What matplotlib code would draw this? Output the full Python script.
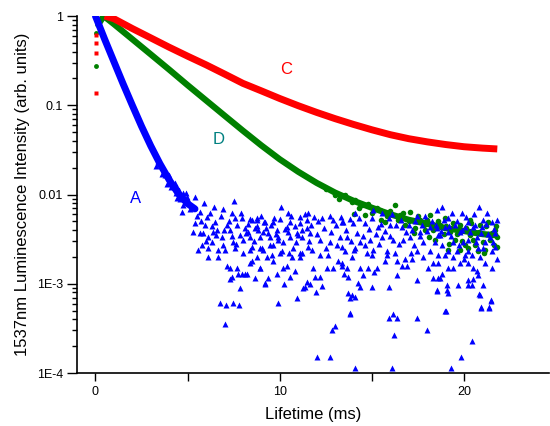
import matplotlib.pyplot as plt

plt.rcParams['font.family'] = ['Liberation Sans', 'DejaVu Sans']

# Curve C (red) - read along the centre of the band
c_t = [0.5, 1.0, 2.0, 3.0, 4.0, 5.0, 6.0, 7.0, 8.0, 9.0, 10.0, 11.0, 12.0, 13.0, 14.0, 15.0, 16.0, 17.0, 18.0,
       19.0, 20.0, 21.0, 21.8]
c_y = [1.0, 0.933, 0.724, 0.569, 0.447, 0.355, 0.284, 0.224, 0.176, 0.145, 0.119, 0.0989, 0.0832, 0.0708,
       0.0610, 0.0531, 0.0468, 0.0422, 0.0389, 0.0363, 0.0343, 0.0331, 0.0324]
# stray red points at t = 0
c0_t = [0.05, 0.05, 0.05, 0.05]
c0_y = [0.61, 0.50, 0.385, 0.137]

# Curve D (green)
d_t = [0.15, 0.45, 1.0, 2.0, 3.0, 4.0, 5.0, 6.0, 7.0, 8.0, 9.0, 10.0, 11.0, 12.0, 13.0, 14.0, 15.0, 16.0, 17.0,
       18.0, 19.0, 20.0, 21.0, 21.7]
d_y = [0.80, 1.0, 0.813, 0.550, 0.372, 0.251, 0.168, 0.1135, 0.0767, 0.0519, 0.0355, 0.0248, 0.0180, 0.0135,
       0.0105, 0.0085, 0.0071, 0.0060, 0.0052, 0.0047, 0.0042, 0.0039, 0.0036, 0.0035]
d0_t = [0.04, 0.04]
d0_y = [0.645, 0.275]
# noisy green tail
dn_t = [13.55, 14.09, 14.47, 15.45, 16.26, 16.53, 17.07, 17.62, 18.16, 18.70, 18.97, 19.51, 19.78, 20.33, 20.60,
        20.87, 21.14, 21.41, 21.68, 21.79, 14.63, 15.72, 16.80, 17.89, 19.24, 20.05, 18.43, 17.34, 20.76, 19.78,
        21.30, 19.13, 20.33,
        12.5, 13.0, 13.2, 13.9, 14.3, 14.8, 15.0, 15.3, 15.8, 16.0, 16.4, 16.7, 17.0, 17.5, 17.8, 18.0, 18.3,
        18.6, 18.9, 19.0, 19.4, 19.6, 19.9, 20.1, 20.4, 20.5, 20.8, 21.0, 21.2, 21.5, 21.6, 21.75, 21.8, 19.2,
        20.2, 17.3, 15.5, 14.0, 21.1, 18.1]
dn_y = [0.0099, 0.0087, 0.0076, 0.0067, 0.0076, 0.0059, 0.0064, 0.0052, 0.0059, 0.0046, 0.0055, 0.0031, 0.0046,
        0.0035, 0.0027, 0.0046, 0.0024, 0.0031, 0.0040, 0.0026, 0.0059, 0.0049, 0.0046, 0.0040, 0.0038, 0.0027,
        0.0031, 0.0042, 0.0023, 0.0024, 0.0049, 0.0024, 0.0052,
        0.0115, 0.0098, 0.0088, 0.0083, 0.0070, 0.0078, 0.0062, 0.0071, 0.0058, 0.0066, 0.0052, 0.0062, 0.0050,
        0.0058, 0.0045, 0.0052, 0.0040, 0.0050, 0.0036, 0.0044, 0.0048, 0.0036, 0.0030, 0.0042, 0.0048, 0.0031,
        0.0038, 0.0029, 0.0044, 0.0037, 0.0027, 0.0044, 0.0033, 0.0028, 0.0025, 0.0037, 0.0052, 0.0061, 0.0022,
        0.0033]

# Curve A (blue) - fast decay part
a_t = [0.0, 0.5, 1.0, 1.5, 2.0, 2.5, 3.0, 3.5, 4.0, 4.5, 5.0, 5.4]
a_y = [1.0, 0.55, 0.309, 0.174, 0.100, 0.0582, 0.0351, 0.0221, 0.0146, 0.0102, 0.0079, 0.0069]

# Curve A - ragged points around the end of the decay
ar_t = [3.3, 3.4, 3.6, 3.8, 3.9, 4.0, 4.1, 4.3, 4.35, 4.55, 4.6, 4.9, 5.1]
ar_y = [0.021, 0.0235, 0.017, 0.0165, 0.013, 0.0165, 0.012, 0.0135, 0.0105, 0.0112, 0.0088, 0.0105, 0.0082]

# Curve A - noise floor, read point by point
an_t = [4.44, 4.77, 4.44, 4.99, 5.42, 4.77, 5.26, 4.72, 5.69, 6.07, 5.91, 6.45, 6.94, 7.43, 7.97, 8.51, 8.78,
        9.16, 9.65, 10.57, 11.11, 11.49, 5.42, 5.96, 6.50, 7.15, 7.59, 8.13, 8.67, 9.11, 9.86, 10.41, 10.95,
        11.49, 5.31, 5.85, 6.40, 6.88, 7.32, 7.86, 8.40, 8.94, 9.49, 9.92, 10.57, 11.22, 6.61, 6.12, 6.34, 7.48,
        8.02, 8.51, 8.94, 9.65, 10.73, 11.11, 11.54, 6.94, 9.32, 9.65, 8.78, 7.59, 8.02,
        7.53, 5.58, 6.12, 6.67, 7.05, 6.12, 6.67, 7.15, 7.32, 7.43, 7.32, 7.70, 7.75, 8.13, 7.86, 6.78, 7.10,
        7.48, 7.80, 7.05, 5.69, 5.80, 10.08, 9.92, 10.95, 8.40, 8.67, 9.21, 9.38, 10.03, 10.41, 10.84, 11.49,
        11.38, 8.94, 8.24, 7.97,
        9.21, 9.86, 10.24, 10.57, 11.27, 11.65, 11.92, 12.20, 12.30, 11.98, 13.01, 12.85, 12.03, 12.74, 12.57,
        12.90, 13.39, 10.19, 13.82,
        8.40, 8.78, 9.21, 9.70, 10.46, 11.11, 11.54, 11.87, 12.30, 12.90, 13.39, 8.29, 8.83, 9.38, 9.92, 10.46,
        11.00, 11.65, 12.20, 12.74, 13.28, 8.40, 9.05, 9.59, 10.14, 10.68, 11.22, 11.76, 12.63, 13.17, 8.51,
        8.94, 11.11, 11.82,
        14.09, 15.07, 15.56, 16.10, 17.45, 17.89, 18.54, 13.44, 13.98, 14.63, 15.34, 15.99, 16.64, 17.18, 17.62,
        18.16, 18.59, 13.66, 14.36, 14.91, 15.56, 16.15, 16.69, 17.07, 17.78, 13.39, 14.09, 14.74, 15.07, 15.83,
        16.26, 17.45, 18.16, 13.55, 13.93, 15.01, 15.72, 16.37, 16.80, 17.78, 18.32, 13.39, 13.66, 14.36, 14.80,
        15.28, 13.50, 13.71, 14.53, 15.12, 16.37, 16.64, 16.91, 17.18, 17.45, 18.05, 18.32, 18.59, 14.25, 14.36,
        15.01, 15.93, 18.54, 13.71, 13.93, 14.09, 13.82, 13.82, 15.93, 16.15, 16.37, 17.45, 17.99, 16.21, 14.09,
        16.10,
        19.02, 19.30, 19.84, 20.43, 20.81, 20.87, 21.36, 21.46, 20.92,
        18.81, 19.35, 19.89, 21.25, 20.54, 19.13, 20.22, 21.03, 21.52, 18.54, 18.97, 19.51, 20.05, 20.49, 20.98,
        21.68, 18.70, 19.13, 19.78, 20.22, 20.70, 21.41, 19.40, 19.95, 21.14, 21.57, 18.81, 19.13, 19.62, 20.22,
        20.76, 21.52, 18.97, 19.40, 20.05, 20.43, 20.87, 21.79, 18.59, 19.13, 19.40, 19.78, 20.22, 20.49, 21.14,
        21.52, 18.81, 20.70, 20.76, 18.70, 20.22, 20.49, 19.08, 19.67, 20.22, 20.43, 21.03, 18.54, 19.08, 19.13,
        20.81, 21.46, 20.92, 21.36, 18.97,
        5.0, 5.15, 5.5, 5.75, 6.2, 6.3, 6.55, 6.8, 7.0, 7.25, 7.4, 7.7, 7.9, 8.15, 8.3, 8.6, 8.75, 9.0, 9.25,
        9.45, 9.55, 9.8, 10.0, 10.2, 10.3, 10.6, 10.8, 10.9, 11.2, 11.35, 11.6, 11.7, 12.0, 12.1, 12.4, 12.5,
        12.7, 12.8, 13.05, 13.1, 13.3, 13.6, 13.8, 13.85, 14.2, 14.3, 14.5, 14.6, 14.85, 15.0, 15.2, 15.4, 15.5,
        15.7, 15.9, 16.0, 16.3, 16.45, 16.6, 16.85, 17.0, 17.3, 17.35, 17.6, 17.7, 18.0, 18.25, 18.4, 18.45,
        18.75, 18.9, 19.2, 19.3, 19.6, 19.7, 19.9, 20.1, 20.3, 20.6, 20.65, 20.9, 21.0, 21.2, 21.3, 21.6, 21.7,
        21.8, 6.0, 7.6, 9.1, 10.5, 12.2, 14.0, 15.8, 17.1, 18.6, 20.0]
an_y = [0.0121, 0.0104, 0.0091, 0.0094, 0.0094, 0.0076, 0.0072, 0.0064, 0.0064, 0.0056, 0.0080, 0.0072, 0.0069,
        0.0062, 0.0055, 0.0052, 0.0055, 0.0049, 0.0049, 0.0049, 0.0048, 0.0052, 0.0048, 0.0046, 0.0049, 0.0046,
        0.0055, 0.0042, 0.0042, 0.0038, 0.0040, 0.0043, 0.0037, 0.0042, 0.0038, 0.0037, 0.0038, 0.0033, 0.0040,
        0.0035, 0.0033, 0.0033, 0.0033, 0.0031, 0.0033, 0.0033, 0.0040, 0.0033, 0.0029, 0.0029, 0.0031, 0.0026,
        0.0025, 0.0027, 0.0025, 0.0022, 0.0026, 0.0027, 0.0020, 0.0018, 0.0020, 0.0025, 0.0022,
        0.0085, 0.0024, 0.0025, 0.0024, 0.0024, 0.0020, 0.0020, 0.0016, 0.0015, 0.0012, 0.00113, 0.0015, 0.0013,
        0.0013, 0.00090, 0.00061, 0.00058, 0.00061, 0.00058, 0.00035, 0.0037, 0.0027, 0.0072, 0.00061, 0.00069,
        0.0017, 0.00116, 0.00102, 0.00116, 0.0022, 0.0016, 0.0014, 0.00105, 0.00092, 0.0015, 0.0013, 0.0013,
        0.00099, 0.0013, 0.00099, 0.0012, 0.00090, 0.00099, 0.0012, 0.0012, 0.00094, 0.00081, 0.00034, 0.00030,
        0.00015, 0.00015, 0.0015, 0.0015, 0.0017, 0.0015, 0.00047,
        0.0053, 0.0052, 0.0049, 0.0055, 0.0062, 0.0056, 0.0062, 0.0056, 0.0055, 0.0052, 0.0049, 0.0038, 0.0040,
        0.0037, 0.0033, 0.0038, 0.0035, 0.0037, 0.0031, 0.0029, 0.0033, 0.0024, 0.0025, 0.0021, 0.0023, 0.0020,
        0.0022, 0.0024, 0.0021, 0.0018, 0.0018, 0.0015, 0.0020, 0.0015,
        0.0062, 0.0067, 0.0062, 0.0060, 0.0057, 0.0057, 0.0067, 0.0049, 0.0048, 0.0048, 0.0043, 0.0046, 0.0043,
        0.0040, 0.0038, 0.0043, 0.0035, 0.0033, 0.0029, 0.0031, 0.0033, 0.0031, 0.0031, 0.0033, 0.0029, 0.0026,
        0.0025, 0.0022, 0.0024, 0.0023, 0.0022, 0.0023, 0.0023, 0.0023, 0.0020, 0.0021, 0.0018, 0.0018, 0.0019,
        0.0020, 0.0017, 0.0016, 0.0015, 0.0015, 0.0015, 0.0015, 0.0013, 0.0012, 0.00125, 0.00135, 0.00125,
        0.0016, 0.0016, 0.0019, 0.0011, 0.0015, 0.00116, 0.00116, 0.00102, 0.00092, 0.00092, 0.00092, 0.00083,
        0.00079, 0.00075, 0.00071, 0.00069, 0.00046, 0.00041, 0.00046, 0.00041, 0.00041, 0.00030, 0.00027,
        0.000114, 0.000114,
        0.00050, 0.000114, 0.00015, 0.00023, 0.0072, 0.00075, 0.00054, 0.00064, 0.00054,
        0.0072, 0.0062, 0.0062, 0.0062, 0.0060, 0.0055, 0.0049, 0.0052, 0.0049, 0.0042, 0.0043, 0.0046, 0.0043,
        0.0043, 0.0043, 0.0037, 0.0035, 0.0038, 0.0038, 0.0031, 0.0033, 0.0033, 0.0029, 0.0029, 0.0029, 0.0029,
        0.0027, 0.0023, 0.0023, 0.0023, 0.0025, 0.0023, 0.0021, 0.0020, 0.0021, 0.0021, 0.0020, 0.0019, 0.0017,
        0.0015, 0.0015, 0.0017, 0.0017, 0.0015, 0.0017, 0.0015, 0.0013, 0.0014, 0.00125, 0.00116, 0.0011,
        0.00113, 0.00097, 0.00097, 0.00097, 0.00097, 0.00097, 0.00085, 0.00085, 0.00079, 0.00077, 0.00066,
        0.00055, 0.00055, 0.00050,
        0.0085, 0.0068, 0.0058, 0.0050, 0.0062, 0.0044, 0.0035, 0.0058, 0.0040, 0.0051, 0.0034, 0.0045, 0.0062,
        0.0037, 0.0047, 0.0030, 0.0044, 0.0058, 0.0042, 0.0027, 0.0046, 0.0036, 0.0053, 0.0029, 0.0041, 0.0058,
        0.0044, 0.0029, 0.0040, 0.0061, 0.0030, 0.0045, 0.0036, 0.0050, 0.0042, 0.0025, 0.0058, 0.0038, 0.0045,
        0.0027, 0.0056, 0.0040, 0.0053, 0.0030, 0.0037, 0.0055, 0.0034, 0.0027, 0.0041, 0.0055, 0.0036, 0.0028,
        0.0047, 0.0039, 0.0054, 0.0034, 0.0045, 0.0028, 0.0052, 0.0038, 0.0046, 0.0027, 0.0050, 0.0034, 0.0046,
        0.0039, 0.0050, 0.0029, 0.0045, 0.0039, 0.0052, 0.0044, 0.0034, 0.0051, 0.0027, 0.0040, 0.0056, 0.0038,
        0.0046, 0.0029, 0.0037, 0.0025, 0.0047, 0.0036, 0.0041, 0.0026, 0.0052, 0.0030, 0.0028, 0.0024, 0.0022,
        0.0021, 0.0024, 0.0021, 0.0022, 0.0021, 0.0019]

y_ticks = [1, 0.1, 0.01, 1e-3, 1e-4]
y_tick_labels = ['1', '0.1', '0.01', '1E-3', '1E-4']
x_ticks = [0, 5, 10, 15, 20]
x_tick_labels = ['0', '', '10', '', '20']

fig = plt.figure(figsize=(5.5, 4.26), dpi=100)
ax = fig.add_axes([0.14, 0.1244, 0.858, 0.838])

# D underneath, then C, then A on top
ax.plot(d_t, d_y, color='green', lw=4.5, solid_capstyle='round', solid_joinstyle='round')
ax.plot(dn_t, dn_y, ls='none', marker='o', ms=4, color='green', mec='none')
ax.plot(d0_t, d0_y, ls='none', marker='o', ms=3.5, color='green', mec='none')

ax.plot(c_t, c_y, color='red', lw=5, solid_capstyle='butt', solid_joinstyle='round')
ax.plot(c0_t, c0_y, ls='none', marker='s', ms=3, color='red', mec='none')

ax.plot(a_t, a_y, color='blue', lw=5, solid_capstyle='round', solid_joinstyle='round')
ax.plot(ar_t, ar_y, ls='none', marker='^', ms=4.5, color='blue', mec='none')
ax.plot(an_t, an_y, ls='none', marker='^', ms=4.5, color='blue', mec='none')

ax.set_yscale('log')
ax.set_ylim(1e-4, 1)
ax.set_xlim(-1.0, 24.6)

ax.set_yticks(y_ticks)
ax.set_yticklabels(y_tick_labels)
ax.set_xticks(x_ticks)
ax.set_xticklabels(x_tick_labels)

ax.tick_params(axis='y', which='major', direction='out', length=7, width=1, labelsize=9, pad=3)
ax.tick_params(axis='y', which='minor', direction='out', length=3.6, width=1)
ax.tick_params(axis='x', which='major', direction='out', length=5.5, width=1, labelsize=9, pad=4)

ax.spines['top'].set_visible(False)
ax.spines['right'].set_visible(False)
ax.spines['left'].set_linewidth(1.2)
ax.spines['bottom'].set_linewidth(1.2)

ax.set_xlabel('Lifetime (ms)', fontsize=12, labelpad=6)
ax.set_ylabel('1537nm Luminescence Intensity (arb. units)', fontsize=12, labelpad=5)

# curve labels
ax.text(10.35, 0.25, 'C', color='red', fontsize=12, ha='center', va='center')
ax.text(6.7, 0.041, 'D', color='teal', fontsize=12, ha='center', va='center')
ax.text(2.17, 0.0091, 'A', color='blue', fontsize=12, ha='center', va='center')

fig.savefig('out.png', dpi=100)
